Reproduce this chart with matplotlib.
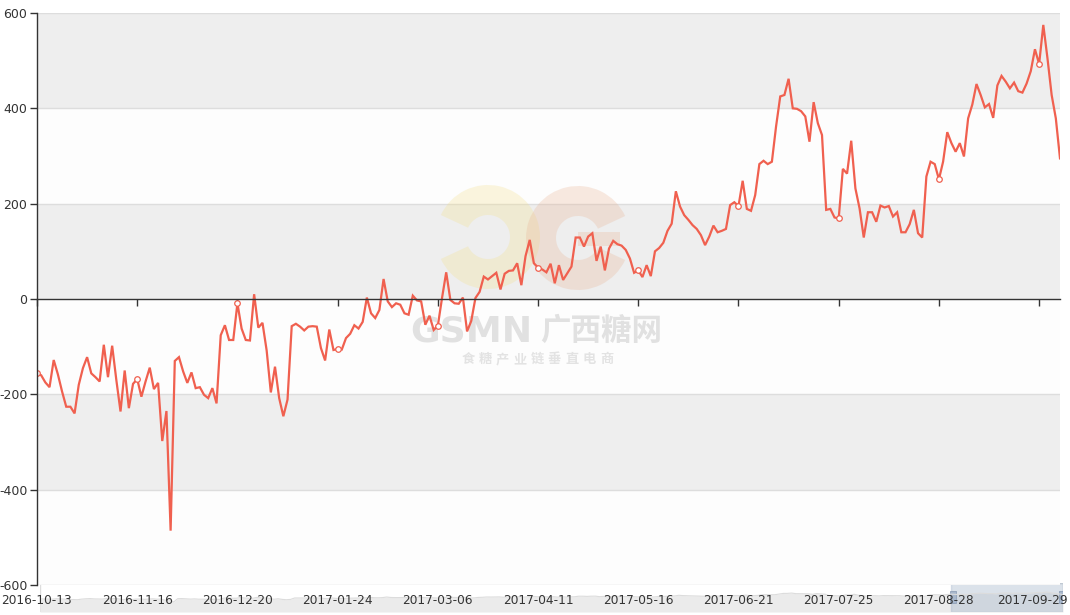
import numpy as np
import matplotlib
matplotlib.use("Agg")
import matplotlib.pyplot as plt
from matplotlib.patches import Wedge, Rectangle
from matplotlib.transforms import IdentityTransform, blended_transform_factory

# ---------------- data ----------------
values = [
    -156, -160, -175, -185, -128, -158, -194, -226, -226, -240,
    -180, -145, -122, -156, -164, -173, -96, -164, -98, -170,
    -236, -150, -229, -178, -168, -205, -173, -144, -189, -176,
    -298, -235, -486, -130, -122, -152, -176, -154, -187, -185,
    -201, -208, -187, -219, -76, -55, -86, -86, -9, -62,
    -86, -87, 10, -60, -50, -108, -196, -142, -208, -246,
    -211, -57, -52, -58, -66, -58, -57, -58, -103, -129,
    -64, -107, -105, -106, -82, -73, -55, -62, -48, 3,
    -30, -40, -23, 42, -5, -17, -9, -12, -30, -33,
    7, -3, -5, -54, -35, -65, -56, 2, 56, -2,
    -9, -10, 3, -68, -46, 2, 15, 47, 41, 48,
    55, 20, 53, 59, 60, 75, 29, 90, 124, 75,
    66, 62, 56, 74, 33, 71, 40, 54, 68, 129,
    129, 110, 131, 138, 80, 110, 60, 106, 122, 115,
    112, 103, 85, 55, 60, 46, 71, 48, 100, 107,
    118, 143, 158, 226, 194, 176, 166, 155, 147, 134,
    113, 131, 154, 140, 143, 147, 197, 203, 195, 248,
    189, 185, 218, 283, 290, 283, 288, 362, 425, 428,
    462, 400, 399, 394, 383, 330, 413, 369, 344, 187,
    189, 171, 169, 273, 263, 332, 232, 190, 129, 182,
    182, 162, 196, 192, 195, 173, 182, 140, 140, 157,
    187, 138, 129, 257, 288, 283, 251, 288, 350, 327,
    309, 327, 299, 379, 408, 451, 428, 402, 409, 380,
    448, 468, 456, 442, 454, 436, 433, 452, 478, 524,
    493, 575, 505, 428, 379, 295,
]
tick_labels = ["2016-10-13", "2016-11-16", "2016-12-20", "2017-01-24",
               "2017-03-06", "2017-04-11", "2017-05-16", "2017-06-21",
               "2017-07-25", "2017-08-28", "2017-09-29"]
label_step = 24
y_ticks = [-600, -400, -200, 0, 200, 400, 600]

# ---------------- styling ----------------
LINE = "#f0604f"
TXT = "#333333"
W, H = 1070, 615

fig = plt.figure(figsize=(W / 100, H / 100), dpi=100)
fig.patch.set_facecolor("white")


def frac(x0, y0, x1, y1):
    return [x0 / W, 1 - y1 / H, (x1 - x0) / W, (y1 - y0) / H]


# ---------------- slider (data zoom) ----------------
sax = fig.add_axes(frac(40, 583, 1063, 612), zorder=0)
sax.set_xlim(40, 1063)
sax.set_ylim(612, 583)
sax.axis("off")
sax.add_patch(Rectangle((40, 583), 1023, 29, facecolor="white",
                        edgecolor="#dddddd", lw=1))
n = len(values)
xs = np.linspace(40, 1063, n)
v = np.array(values, dtype=float)
ys = 602 - (v - v.min()) / (v.max() - v.min()) * 10
sax.fill_between(xs, ys, 612, color="#ebebeb", lw=0)
sax.plot(xs, ys, color="#dcdcdc", lw=0.8)
sax.add_patch(Rectangle((951, 583), 112, 29, facecolor="#a7b7cc",
                        alpha=0.4, edgecolor="#a7b7cc", lw=1))
sax.add_patch(Rectangle((950, 591), 6, 12, facecolor="#a7b7cc",
                        edgecolor="#8fa0b8", lw=0.6))
sax.add_patch(Rectangle((1059, 591), 6, 12, facecolor="#a7b7cc",
                        edgecolor="#8fa0b8", lw=0.6))

# ---------------- main axes ----------------
ax = fig.add_axes(frac(37, 13, 1060, 585), zorder=1)
ax.patch.set_alpha(0)
x = np.arange(n)
ax.set_xlim(0, n - 1)
ax.set_ylim(-600, 600)

# split areas + split lines
band_cols = ["#fdfdfd", "#eeeeee"]
for k in range(len(y_ticks) - 1):
    ax.axhspan(y_ticks[k], y_ticks[k + 1], color=band_cols[k % 2], lw=0, zorder=0)
for yt in y_ticks:
    if yt != 0:
        ax.axhline(yt, color="#dddddd", lw=1, zorder=0.5)

# watermark logo & text (pixel coordinates)
idt = IdentityTransform()
ax.add_patch(Wedge((488, H - 237), 52, 205, 155, width=30,
                   facecolor="#f3e08a", alpha=0.28, lw=0,
                   transform=idt, zorder=1))
ax.add_patch(Wedge((578, H - 238), 52, 25, 335, width=30,
                   facecolor="#e9b394", alpha=0.28, lw=0,
                   transform=idt, zorder=1))
ax.add_patch(Rectangle((578, H - 246), 42, 14, facecolor="#e9b394",
                       alpha=0.28, lw=0, transform=idt, zorder=1))
ax.text(410, H - 332, "GSMN", transform=idt, fontsize=26, fontweight="bold",
        color="#e1e1e1", va="center", ha="left",
        family=["DejaVu Sans"], zorder=1)
ax.text(540, H - 331, "广西糖网", transform=idt, fontsize=22, fontweight="bold",
        color="#e1e1e1", va="center", ha="left",
        family=["Noto Sans CJK SC", "DejaVu Sans"], zorder=1)
for k, ch in enumerate("食糖产业链垂直电商"):
    ax.text(468 + 17.3 * k, H - 359, ch, transform=idt, fontsize=9.5,
            fontweight="bold", color="#e3e3e3", va="center", ha="center",
            family=["Noto Sans CJK SC", "DejaVu Sans"], zorder=1)

# series
ax.plot(x, values, color=LINE, lw=1.6, zorder=3, solid_joinstyle="miter")
mk = x[::label_step]
ax.plot(mk, np.array(values)[::label_step], ls="none", marker="o", ms=4,
        mfc="white", mec=LINE, mew=0.9, zorder=4)

# axes lines / ticks
for s in ["top", "right"]:
    ax.spines[s].set_visible(False)
ax.spines["left"].set_color(TXT)
ax.spines["left"].set_linewidth(1)
ax.spines["bottom"].set_position(("data", 0))
ax.spines["bottom"].set_color(TXT)
ax.spines["bottom"].set_linewidth(1)
ax.spines["left"].set_zorder(5)
ax.spines["bottom"].set_zorder(5)

ax.set_yticks(y_ticks)
ax.set_yticklabels([str(t) for t in y_ticks])
ax.tick_params(axis="y", length=5, width=1, color=TXT, labelcolor=TXT,
               labelsize=9, pad=2)
ax.set_xticks(x[::label_step])
ax.tick_params(axis="x", length=5, width=1, color=TXT, labelbottom=False)

trans = blended_transform_factory(ax.transData, ax.transAxes)
for i, lab in enumerate(tick_labels):
    if i == len(tick_labels) - 1:
        ax.text(1068, H - 600, lab, transform=idt, ha="right",
                va="center", fontsize=8.7, color=TXT, clip_on=False, zorder=6)
    else:
        ax.text(i * label_step, -0.027, lab, transform=trans, ha="center",
                va="center", fontsize=8.7, color=TXT, clip_on=False, zorder=6)

fig.savefig("out.png", dpi=100, facecolor="white")
